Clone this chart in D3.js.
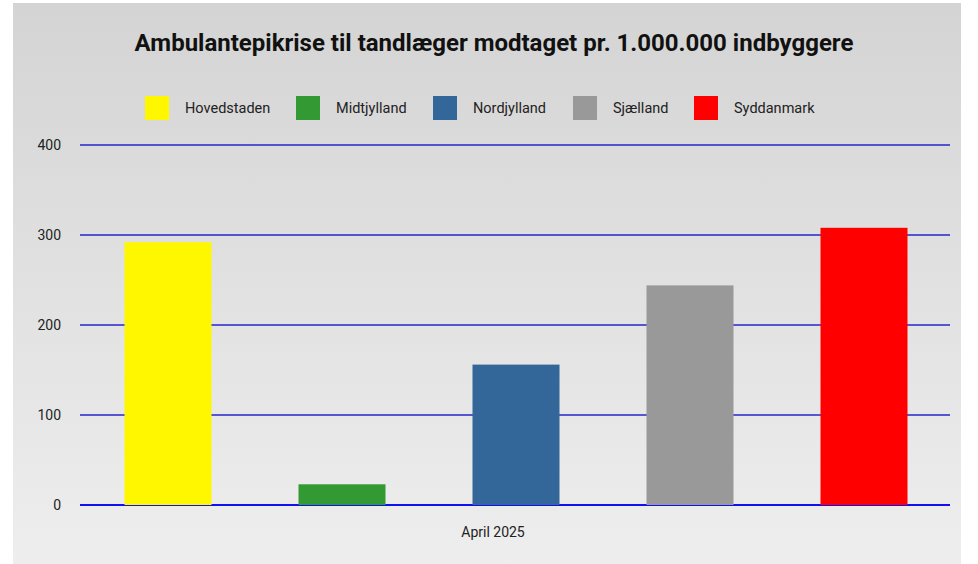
<!DOCTYPE html>
<html>
<head>
<meta charset="utf-8">
<script src="https://cdn.jsdelivr.net/npm/d3@7"></script>
<style>
  body { margin: 0; background: #fff; }
  text { font-family: Roboto, sans-serif; }
</style>
</head>
<body>
<div id="chart"></div>
<script>
const categories = ["April 2025"];
const regions = ["Hovedstaden", "Midtjylland", "Nordjylland", "Sjælland", "Syddanmark"];
const values = [292, 23, 156, 244, 308];
const colors = ["#fff700", "#339933", "#336699", "#999999", "#ff0000"];
const yTicks = [0, 100, 200, 300, 400];

const width = 978, height = 564;
const margin = { top: 145, right: 27, bottom: 59, left: 81 };

const svg = d3.select("#chart").append("svg")
    .attr("width", width)
    .attr("height", height);

const grad = svg.append("defs").append("linearGradient")
    .attr("id", "bg").attr("x1", 0).attr("y1", 0).attr("x2", 0).attr("y2", 1);
grad.append("stop").attr("offset", "0%").attr("stop-color", "#d4d4d4");
grad.append("stop").attr("offset", "100%").attr("stop-color", "#eeeeee");

svg.append("rect")
    .attr("x", 13).attr("y", 3)
    .attr("width", 948).attr("height", height - 3)
    .attr("fill", "url(#bg)");

const x0 = d3.scaleBand()
    .domain(categories)
    .range([margin.left, width - margin.right]);

const x1 = d3.scaleBand()
    .domain(regions)
    .range([0, x0.bandwidth()])
    .paddingInner(0.5)
    .paddingOuter(0.25);

const y = d3.scaleLinear()
    .domain([0, 400])
    .range([height - margin.bottom, margin.top]);

// gridlines
svg.append("g")
    .selectAll("line")
    .data(yTicks)
    .enter().append("line")
    .attr("x1", 80)
    .attr("x2", 950)
    .attr("y1", d => y(d))
    .attr("y2", d => y(d))
    .attr("stroke", d => d === 0 ? "#1010f0" : "#2626c8")
    .attr("stroke-width", d => d === 0 ? 2 : 1.4);

// y labels
svg.append("g")
    .selectAll("text")
    .data(yTicks)
    .enter().append("text")
    .attr("x", 61)
    .attr("y", d => y(d))
    .attr("dy", "0.35em")
    .attr("text-anchor", "end")
    .style("font-size", "14px")
    .attr("fill", "#222")
    .text(d => d);

// bars
const group = svg.append("g")
    .attr("transform", `translate(${x0(categories[0])},0)`);

group.selectAll("rect")
    .data(regions)
    .enter().append("rect")
    .attr("x", d => x1(d))
    .attr("width", x1.bandwidth())
    .attr("y", (d, i) => y(values[i]))
    .attr("height", (d, i) => y(0) - y(values[i]))
    .attr("fill", (d, i) => colors[i]);

// x label
svg.append("text")
    .attr("x", 493)
    .attr("y", 537)
    .attr("text-anchor", "middle")
    .style("font-size", "14px")
    .attr("fill", "#222")
    .text(categories[0]);

// title
svg.append("text")
    .attr("x", 494)
    .attr("y", 51)
    .attr("text-anchor", "middle")
    .style("font-size", "24px")
    .style("font-weight", "bold")
    .attr("fill", "#111")
    .text("Ambulantepikrise til tandlæger modtaget pr. 1.000.000 indbyggere");

// legend
const legendX = [145, 296, 433, 573, 694];
const legend = svg.append("g");
regions.forEach((d, i) => {
    const row = legend.append("g")
        .attr("transform", `translate(${legendX[i]}, 96)`);
    row.append("rect")
        .attr("width", 24)
        .attr("height", 24)
        .attr("fill", colors[i]);
    row.append("text")
        .attr("x", 40)
        .attr("y", 12)
        .attr("dy", "0.35em")
        .style("font-size", "14.5px")
        .attr("fill", "#222")
        .text(d);
});
</script>
</body>
</html>
